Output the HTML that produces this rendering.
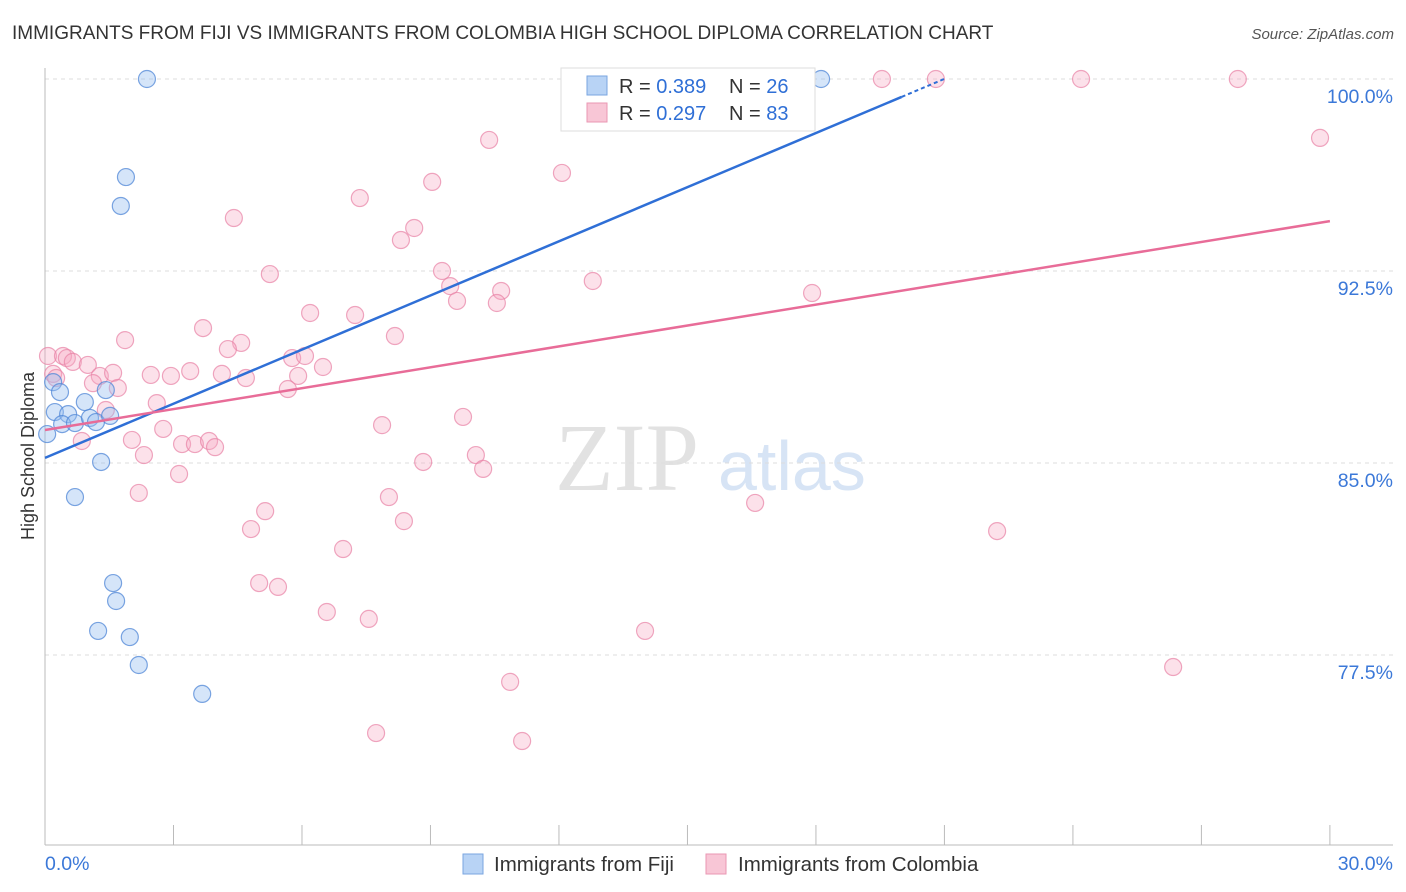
<!DOCTYPE html>
<html><head><meta charset="utf-8"><style>
body{margin:0;background:#fff;font-family:"Liberation Sans",sans-serif;}
</style></head><body>
<svg id="chart" width="1406" height="892" xmlns="http://www.w3.org/2000/svg" style="display:block">
<text x="12" y="39" font-size="19" fill="#333">IMMIGRANTS FROM FIJI VS IMMIGRANTS FROM COLOMBIA HIGH SCHOOL DIPLOMA CORRELATION CHART</text>
<text x="1394" y="39" font-size="15" fill="#555" text-anchor="end" font-style="italic">Source: ZipAtlas.com</text>
<g>
<text x="555" y="490" font-size="96" fill="#e2e2e2" font-family="Liberation Serif,serif">ZIP</text>
<text x="718" y="490" font-size="70" fill="#d7e4f5">atlas</text>
</g>
<g id="grid"></g><g id="axes"></g><g id="marks"></g>
<text transform="translate(34,456) rotate(-90)" font-size="18" fill="#333" text-anchor="middle">High School Diploma</text>
<g>
<rect x="561" y="68" width="254" height="63" fill="#fff" stroke="#ddd"/>
<rect x="587" y="76" width="20" height="19" fill="#b8d3f5" stroke="#7aa6e0"/>
<text x="619" y="93" font-size="20" fill="#333">R = <tspan fill="#2f6fd6">0.389</tspan></text>
<text x="729" y="93" font-size="20" fill="#333">N = <tspan fill="#2f6fd6">26</tspan></text>
<rect x="587" y="103" width="20" height="19" fill="#f8c6d6" stroke="#ea97b3"/>
<text x="619" y="120" font-size="20" fill="#333">R = <tspan fill="#2f6fd6">0.297</tspan></text>
<text x="729" y="120" font-size="20" fill="#333">N = <tspan fill="#2f6fd6">83</tspan></text>
</g>
<g>
<rect x="463" y="854" width="20" height="20" fill="#b8d3f5" stroke="#7aa6e0"/>
<text x="494" y="871" font-size="20.5" fill="#333">Immigrants from Fiji</text>
<rect x="706" y="854" width="20" height="20" fill="#f8c6d6" stroke="#ea97b3"/>
<text x="738" y="871" font-size="20.5" fill="#333">Immigrants from Colombia</text>
</g>
</svg>
<script>
const yTicks=[100,92.5,85,77.5];
const yTickLabels=["100.0%","92.5%","85.0%","77.5%"];
const xTickVals=[0,3,6,9,12,15,18,21,24,27,30];
const xEndLabels=["0.0%","30.0%"];
const fijiX=[2.38,1.89,1.77,0.19,0.35,0.23,0.54,0.40,0.70,0.93,1.05,1.19,1.42,1.52,1.31,0.70,1.59,1.66,1.24,1.98,2.19,3.67,18.12,0.05];
const fijiY=[100,96.17,95.04,88.16,87.77,86.99,86.91,86.52,86.56,87.38,86.76,86.60,87.85,86.84,85.04,83.67,80.31,79.61,78.44,78.20,77.11,75.98,100,86.13];
const colX=[13.82,19.54,20.80,24.19,27.85,29.77,10.37,12.07,9.04,7.35,4.41,8.62,8.31,5.25,9.27,9.46,9.62,10.65,10.55,12.79,17.91,6.19,7.24,3.69,8.17,1.87,4.58,4.27,0.07,0.42,0.51,0.65,1.00,5.77,6.07,6.49,3.39,2.47,2.94,4.13,4.69,5.91,0.19,0.26,1.28,1.59,1.70,1.12,5.67,2.61,1.42,9.76,7.87,2.76,2.03,0.86,3.20,3.50,3.83,3.97,2.31,10.06,8.83,10.23,3.13,2.19,8.03,16.58,5.14,8.38,4.81,22.23,6.96,5.00,5.44,6.58,7.56,14.01,26.34,10.86,7.73,11.14];
const colY=[100,100,100,100,100,97.70,97.62,96.33,95.98,95.35,94.57,94.18,93.71,92.38,92.50,91.91,91.33,91.72,91.25,92.11,91.64,90.86,90.78,90.27,89.96,89.80,89.69,89.45,89.18,89.18,89.10,88.95,88.83,89.10,89.18,88.75,88.59,88.44,88.40,88.48,88.32,88.40,88.48,88.32,88.40,88.52,87.93,88.12,87.89,87.34,87.07,86.80,86.48,86.33,85.90,85.86,85.74,85.74,85.86,85.62,85.31,85.31,85.04,84.77,84.57,83.83,83.67,83.44,83.12,82.73,82.42,82.34,81.64,80.31,80.16,79.18,78.91,78.44,77.03,76.45,74.45,74.14];
const fijiTrend=[85.2,99.3,20.0];
const colTrend=[86.29,94.45];
const NS="http://www.w3.org/2000/svg";
const X=v=>45+v*42.83, Y=v=>79+(100-v)*25.6;
function mk(tag,at,parent){const e=document.createElementNS(NS,tag);for(const k in at)e.setAttribute(k,at[k]);parent.appendChild(e);return e;}
const grid=document.getElementById('grid'),axes=document.getElementById('axes'),marks=document.getElementById('marks');
yTicks.forEach((t,i)=>{
 const l=mk('line',{x1:45,x2:1393,y1:Y(t),y2:Y(t),stroke:'#ddd','stroke-dasharray':'4,4'},grid);
 
 
 const tx=mk('text',{x:1393,y:Y(t)+24,'font-size':19.5,fill:'#3b78d8','text-anchor':'end'},grid);
 tx.textContent=yTickLabels[i];
 
 
});
const ax=mk('line',{x1:45,x2:45,y1:68,y2:845,stroke:'#bbb'},axes);


const bx=mk('line',{x1:45,x2:1393,y1:845,y2:845,stroke:'#bbb'},axes);


xTickVals.forEach(v=>{
 const t=mk('line',{x1:X(v),x2:X(v),y1:825,y2:845,stroke:'#bbb'},axes);
 
 
});
[[0,'start',45],[30,'end',1393]].forEach((d,i)=>{
 const t=mk('text',{x:d[2],y:870,'font-size':19.5,fill:'#3b78d8','text-anchor':d[1]},axes);
 t.textContent=xEndLabels[i];
 
 
});
colX.forEach((x,i)=>{
 const c=mk('circle',{cx:X(x),cy:Y(colY[i]),r:8.5,fill:'rgba(245,170,195,0.35)',stroke:'rgba(232,130,165,0.7)','stroke-width':1.2},marks);
 
 
});
fijiX.forEach((x,i)=>{
 const c=mk('circle',{cx:X(x),cy:Y(fijiY[i]),r:8.5,fill:'rgba(150,190,240,0.4)',stroke:'rgba(80,135,215,0.75)','stroke-width':1.2},marks);
 
 
});
const fs=(fijiTrend[1]-fijiTrend[0])/fijiTrend[2];
const l1=mk('line',{x1:X(0),y1:Y(fijiTrend[0]),x2:X(fijiTrend[2]),y2:Y(fijiTrend[1]),stroke:'#2f6fd6','stroke-width':2.5},marks);


const xe=(100-fijiTrend[0])/fs;
const l2=mk('line',{x1:X(fijiTrend[2]),y1:Y(fijiTrend[1]),x2:X(xe),y2:Y(100),stroke:'#2f6fd6','stroke-width':2,'stroke-dasharray':'4,3'},marks);


const l3=mk('line',{x1:X(0),y1:Y(colTrend[0]),x2:X(30),y2:Y(colTrend[1]),stroke:'#e86c98','stroke-width':2.5},marks);


</script>
</body></html>
